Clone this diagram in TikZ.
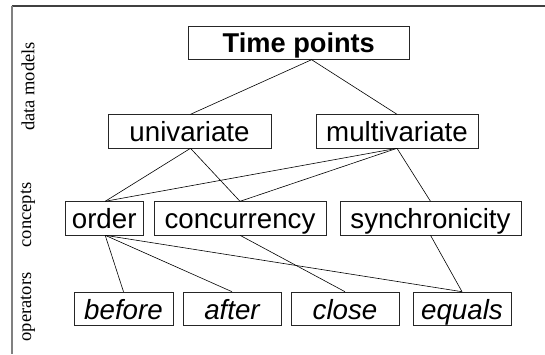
\documentclass[tikz,border=0pt]{standalone}
\usepackage{fontspec}
\setmainfont{Liberation Serif}
\setsansfont{Liberation Sans}
\begin{document}
\begin{tikzpicture}[x=1pt,y=-1pt,
  box/.style={draw=black!85,line width=0.7pt,inner sep=0pt,inner xsep=0pt,
    minimum height=33.3pt,text height=27.3pt,text depth=6pt,
    font=\sffamily\fontsize{27.7}{30}\selectfont,anchor=center},
  opbox/.style={box,font=\sffamily\itshape\fontsize{27.7}{30}\selectfont},
  link/.style={draw=black,line width=0.6pt},
  side/.style={rotate=90,font=\rmfamily\fontsize{18.5}{22}\selectfont,anchor=center}]
\useasboundingbox (0,0) rectangle (545,354);
% frame
\draw[black!75,line width=1.5pt] (11.5,6) -- (545,6);
\draw[black!50,line width=2pt] (12,5.5) -- (12,354);
% level labels
\node[side] (lm) at (28,86.5) {data models};
\node[side] (lc) at (28,215) {concepts};
\node[side] (lo) at (28,307) {operators};
% nodes
\node[box,minimum width=221pt,text depth=7pt,text height=26.3pt,
  font=\sffamily\bfseries\fontsize{27.2}{30}\selectfont] (tp) at (298.8,42.7) {Time points};
\node[box,minimum width=163pt] (uni) at (189.5,131.3) {univariate};
\node[box,minimum width=162pt] (multi) at (397,131.3) {multivariate};
\node[box,minimum width=78pt] (ord) at (104.2,218.3) {order};
\node[box,minimum width=172pt] (conc) at (240,218.3) {concurrency};
\node[box,minimum width=181pt] (sync) at (430.5,218.3) {synchronicity};
\node[opbox,minimum width=99pt] (bef) at (123.5,308.7) {before};
\node[opbox,minimum width=98pt] (aft) at (232,308.7) {after};
\node[opbox,minimum width=108pt] (clo) at (345,308.7) {close};
\node[opbox,minimum width=98pt] (equ) at (462,308.7) {equals};
% connectors
\draw[link] ([xshift=12.8pt]tp.south) -- ([xshift=1pt]uni.north);
\draw[link] ([xshift=12.8pt]tp.south) -- (multi.north);
\draw[link] ([xshift=1pt]uni.south) -- ([xshift=1pt]ord.north);
\draw[link] ([xshift=1pt]uni.south) -- (conc.north);
\draw[link] (multi.south) -- ([xshift=1pt]ord.north);
\draw[link] (multi.south) -- (conc.north);
\draw[link] (multi.south) -- (sync.north);
\draw[link] ([xshift=1pt]ord.south) -- (bef.north);
\draw[link] ([xshift=1pt]ord.south) -- (aft.north);
\draw[link] ([xshift=1pt]ord.south) -- (equ.north);
\draw[link] (conc.south) -- (clo.north);
\draw[link] (sync.south) -- (equ.north);
\end{tikzpicture}
\end{document}
